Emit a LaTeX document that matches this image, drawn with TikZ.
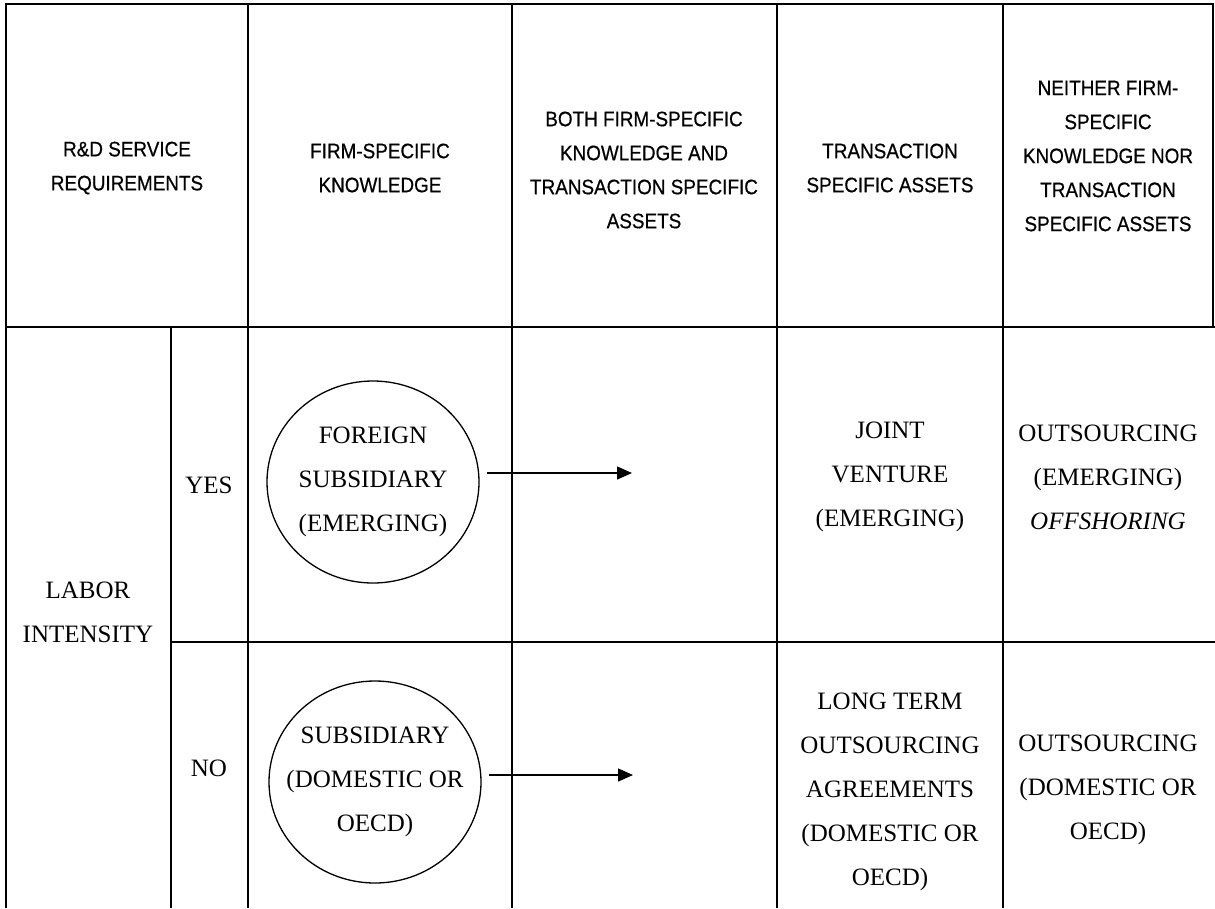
\documentclass[tikz,border=0pt]{standalone}
\usepackage{fontspec}
\setmainfont{Liberation Serif}
\newfontfamily\hdrfont[FakeStretch=0.9,FakeBold=0.6]{Liberation Sans}
\usetikzlibrary{arrows.meta,shapes.geometric}
\tikzset{
tabline/.style={
line width=2pt
},
hdr/.style={
align=center,
inner sep=0pt,
font=\hdrfont\fontsize{21}{34}\selectfont
},
cell/.style={
align=center,
inner sep=0pt,
font=\fontsize{25}{44}\selectfont
},
choice/.style={
cell,
ellipse,
draw,
line width=1.3pt,
inner xsep=-14pt,
minimum width=212pt,
minimum height=202pt
},
arrow/.style={
-{Triangle[length=15pt,width=13pt]},
line width=1.4pt
}
}

\begin{document}
\begin{tikzpicture}[x=1pt,y=-1pt]

\useasboundingbox (0,0) rectangle (1215,908);

\draw[tabline] (6,908) -- (6,4) -- (1213,4) -- (1213,327);

\draw[tabline] (6,327) -- (1215,327);

\draw[tabline] (171,642) -- (1215,642);

\draw[tabline] (171,327) -- (171,908);

\foreach \x in {248,512,777,1003}
\draw[tabline] (\x,4) -- (\x,908);

\node[hdr](reqs) at (127,168){R\&D SERVICE\\REQUIREMENTS};

\node[hdr](fsk) at (380,168){FIRM-SPECIFIC\\KNOWLEDGE};

\node[hdr](both) at (644,170){BOTH FIRM-SPECIFIC\\KNOWLEDGE AND\\TRANSACTION SPECIFIC\\ASSETS};

\node[hdr](tsa) at (890,168){TRANSACTION\\SPECIFIC ASSETS};

\node[hdr](neither) at (1108,156){NEITHER FIRM-\\SPECIFIC\\KNOWLEDGE NOR\\TRANSACTION\\SPECIFIC ASSETS};

\node[cell](labor) at (88,612){LABOR\\INTENSITY};

\node[cell](yes) at (209,485){YES};

\node[cell](no) at (209,768){NO};

\node[choice](fsub) at (373,482){FOREIGN\\SUBSIDIARY\\(EMERGING)};

\node[choice](dsub) at (375,782){SUBSIDIARY\\(DOMESTIC OR\\OECD)};

\node[cell](jv) at (890,477){JOINT\\VENTURE\\(EMERGING)};

\node[cell](ltoa) at (890,792){LONG TERM\\OUTSOURCING\\AGREEMENTS\\(DOMESTIC OR\\OECD)};

\node[cell](oem) at (1108,477){OUTSOURCING\\(EMERGING)\\\textit{OFFSHORING}};

\node[cell](odom) at (1108,790){OUTSOURCING\\(DOMESTIC OR\\OECD)};

\coordinate (fend) at (632,473);

\coordinate (dend) at (633,775);

\draw[arrow]([xshift=7pt,yshift=9pt]fsub.east) -- (fend);

\draw[arrow]([xshift=7pt,yshift=7pt]dsub.east) -- (dend);

\end{tikzpicture}
\end{document}
